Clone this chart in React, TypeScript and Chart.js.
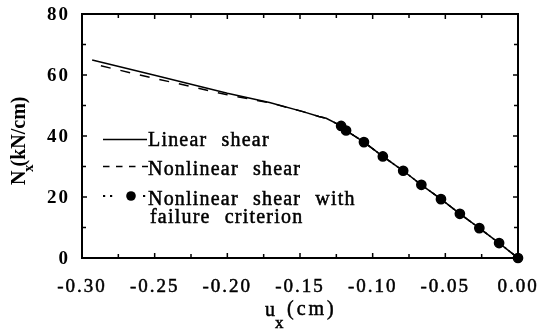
import React, { useEffect, useRef } from "react";
import { Chart, registerables } from "chart.js";

Chart.register(...registerables);

// ---- data ----
const linearX = [-0.293, -0.25, -0.2, -0.171, -0.148, -0.137, -0.132, -0.1217, -0.1183, -0.106, -0.093, -0.079, -0.0665, -0.053, -0.04, -0.0266, -0.013, 0];
const linearY = [64.9, 59.9, 54.0, 51.0, 48.0, 46.4, 45.8, 43.3, 41.8, 38.0, 33.3, 28.6, 24.0, 19.3, 14.5, 9.8, 4.9, 0];

const nonlinearX = [-0.287, -0.25, -0.2, -0.171, -0.148, -0.137, -0.132, -0.1217, -0.1183, -0.106, -0.093, -0.079, -0.0665, -0.053, -0.04, -0.0266, -0.013, 0];
const nonlinearY = [63.0, 58.9, 53.5, 50.9, 48.0, 46.4, 45.8, 43.3, 41.8, 38.0, 33.3, 28.6, 24.0, 19.3, 14.5, 9.8, 4.9, 0];

const failureX = [0, -0.013, -0.0266, -0.04, -0.053, -0.0665, -0.079, -0.093, -0.106, -0.1183, -0.1217];
const failureY = [0, 4.9, 9.8, 14.5, 19.3, 24.0, 28.6, 33.3, 38.0, 41.8, 43.3];

const xTickValues = [-0.3, -0.25, -0.2, -0.15, -0.1, -0.05, 0];
const xTickLabels = ["-0.30", "-0.25", "-0.20", "-0.15", "-0.10", "-0.05", "0.00"];
const yTickValues = [0, 20, 40, 60, 80];
const yTickLabels = ["0", "20", "40", "60", "80"];

const legendLabels = ["Linear shear", "Nonlinear shear", "Nonlinear shear with", "failure criterion"];

const SERIF = '"Liberation Serif", "Times New Roman", serif';

const pts = (xs: number[], ys: number[]) => xs.map((x, i) => ({ x, y: ys[i] }));

function heavyText(ctx: CanvasRenderingContext2D, t: string, x: number, y: number, w = 0.5) {
  ctx.lineWidth = w;
  ctx.strokeText(t, x, y);
  ctx.fillText(t, x, y);
}

const decorPlugin = {
  id: "decor",
  beforeDraw(chart: any) {
    chart.ctx.letterSpacing = "2px";
  },
  afterDraw(chart: any) {
    const ctx = chart.ctx;
    const xs = chart.scales.x;
    const ys = chart.scales.y;
    const left = xs.getPixelForValue(-0.3);
    const right = xs.getPixelForValue(0);
    const top = ys.getPixelForValue(80);
    const bottom = ys.getPixelForValue(0);
    ctx.save();
    ctx.letterSpacing = "0px";
    ctx.strokeStyle = "#000";
    ctx.fillStyle = "#000";
    ctx.setLineDash([]);
    // frame
    ctx.lineWidth = 2;
    ctx.strokeRect(left, top, right - left, bottom - top);
    // ticks (inward)
    ctx.lineWidth = 1.5;
    for (let i = 0; i <= 12; i++) {
      const px = xs.getPixelForValue(-0.3 + i * 0.025);
      const len = i % 2 === 0 ? 5 : 4;
      ctx.beginPath();
      ctx.moveTo(px, bottom);
      ctx.lineTo(px, bottom - len);
      ctx.moveTo(px, top);
      ctx.lineTo(px, top + len);
      ctx.stroke();
    }
    for (let i = 0; i <= 8; i++) {
      const py = ys.getPixelForValue(i * 10);
      const len = i % 2 === 0 ? 5 : 4;
      ctx.beginPath();
      ctx.moveTo(left, py);
      ctx.lineTo(left + len, py);
      ctx.moveTo(right, py);
      ctx.lineTo(right - len, py);
      ctx.stroke();
    }

    // x axis title u_x(cm)
    ctx.textBaseline = "alphabetic";
    ctx.textAlign = "left";
    ctx.font = `20px ${SERIF}`;
    heavyText(ctx, "u", 265, 316);
    ctx.font = `17px ${SERIF}`;
    heavyText(ctx, "x", 275, 328);
    ctx.font = `20px ${SERIF}`;
    ctx.letterSpacing = "3px";
    heavyText(ctx, "(cm)", 287, 315);
    ctx.letterSpacing = "0px";

    // y axis title N_x(kN/cm)
    ctx.save();
    ctx.translate(25, 185);
    ctx.rotate(-Math.PI / 2);
    ctx.font = `bold 20px ${SERIF}`;
    ctx.fillText("N", 0, 0);
    ctx.font = `bold 15px ${SERIF}`;
    ctx.fillText("x", 13, 8);
    ctx.font = `bold 20px ${SERIF}`;
    ctx.fillText("(kN/cm)", 18.5, 0);
    ctx.restore();

    // legend
    ctx.lineWidth = 1.5;
    ctx.beginPath();
    ctx.moveTo(103, 139.5);
    ctx.lineTo(147, 139.5);
    ctx.stroke();
    ctx.setLineDash([6.5, 6.5]);
    ctx.beginPath();
    ctx.moveTo(103, 166.5);
    ctx.lineTo(148, 166.5);
    ctx.stroke();
    ctx.setLineDash([]);
    [104, 111, 144].forEach((dx) => ctx.fillRect(dx - 1, 195, 2.2, 2));
    ctx.beginPath();
    ctx.arc(131, 196, 4.8, 0, Math.PI * 2);
    ctx.fill();

    ctx.font = `20px ${SERIF}`;
    ctx.letterSpacing = "1.2px";
    (ctx as any).wordSpacing = "8px";
    heavyText(ctx, legendLabels[0], 148, 146);
    heavyText(ctx, legendLabels[1], 148, 175);
    heavyText(ctx, legendLabels[2], 148, 205);
    heavyText(ctx, legendLabels[3], 150, 223);
    (ctx as any).wordSpacing = "0px";
    ctx.letterSpacing = "0px";
    ctx.restore();
    ctx.letterSpacing = "0px";
  },
};

const zeroPad = (s: any) => {
  s.paddingTop = 0;
  s.paddingBottom = 0;
  s.paddingLeft = 0;
  s.paddingRight = 0;
};

export default function App() {
  const ref = useRef<HTMLCanvasElement | null>(null);
  useEffect(() => {
    document.body.style.margin = "0";
    const canvas = ref.current!;
    const chart = new Chart(canvas, {
      type: "scatter",
      data: {
        datasets: [
          {
            label: legendLabels[0],
            data: pts(linearX, linearY),
            showLine: true,
            borderColor: "#000",
            borderWidth: 1.5,
            pointRadius: 0,
            tension: 0,
          },
          {
            label: legendLabels[1],
            data: pts(nonlinearX, nonlinearY),
            showLine: true,
            borderColor: "#000",
            borderWidth: 1.5,
            borderDash: [10, 10],
            pointRadius: 0,
            tension: 0,
          },
          {
            label: legendLabels[2] + " " + legendLabels[3],
            data: pts(failureX, failureY),
            showLine: true,
            borderColor: "#000",
            borderWidth: 1.5,
            borderDash: [2, 3],
            pointRadius: 4.6,
            pointBackgroundColor: "#000",
            pointBorderColor: "#000",
            tension: 0,
            clip: false as any,
          },
        ],
      },
      options: {
        responsive: false,
        animation: false,
        devicePixelRatio: 1,
        events: [],
        layout: { padding: { left: 0, right: 21, top: 14, bottom: 0 } },
        plugins: { legend: { display: false }, tooltip: { enabled: false } },
        scales: {
          x: {
            type: "linear",
            min: -0.3,
            max: 0,
            grid: { display: false, drawTicks: false },
            border: { display: false },
            afterBuildTicks: (s: any) => {
              s.ticks = xTickValues.map((v) => ({ value: v }));
            },
            afterFit: (s: any) => {
              s.height = 73;
              zeroPad(s);
            },
            ticks: {
              autoSkip: false,
              maxRotation: 0,
              padding: 18,
              color: "#000",
              textStrokeColor: "#000",
              textStrokeWidth: 0.5,
              font: { family: SERIF, size: 19 },
              callback: (_v: any, i: number) => xTickLabels[i],
            },
          },
          y: {
            type: "linear",
            min: 0,
            max: 80,
            grid: { display: false, drawTicks: false },
            border: { display: false },
            afterBuildTicks: (s: any) => {
              s.ticks = yTickValues.map((v) => ({ value: v }));
            },
            afterFit: (s: any) => {
              s.width = 82;
              zeroPad(s);
            },
            ticks: {
              autoSkip: false,
              padding: 12,
              labelOffset: 1.5,
              color: "#000",
              font: { family: SERIF, size: 19, weight: "bold" },
              callback: (_v: any, i: number) => yTickLabels[i],
            },
          },
        },
      },
      plugins: [decorPlugin],
    });
    return () => chart.destroy();
  }, []);
  return (
    <div style={{ width: 539, height: 331 }}>
      <style>{"body{margin:0}"}</style>
      <canvas ref={ref} width={539} height={331} style={{ display: "block" }} />
    </div>
  );
}
